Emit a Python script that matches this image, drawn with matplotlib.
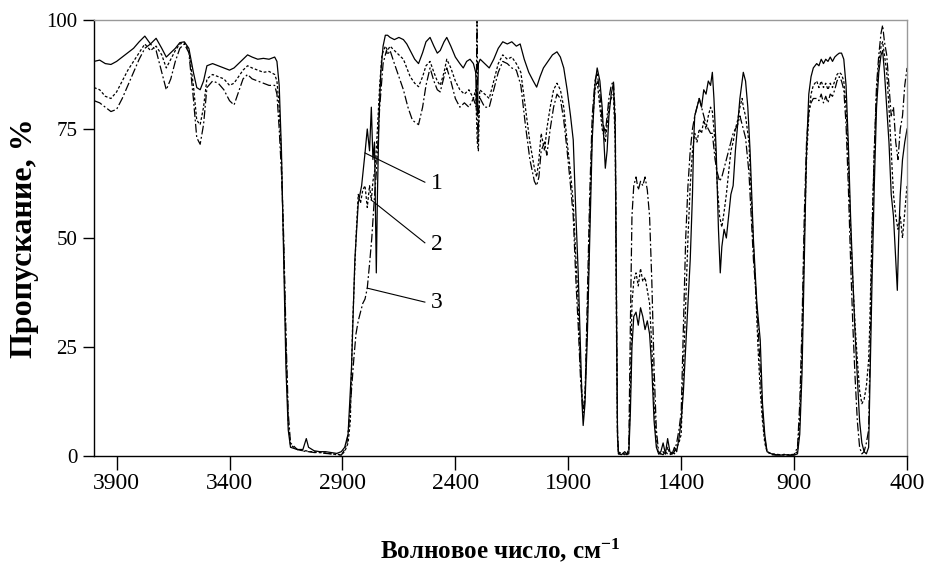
import matplotlib
matplotlib.use("Agg")
import matplotlib.pyplot as plt

plt.rcParams['font.family'] = ['Liberation Serif', 'DejaVu Serif']
plt.rcParams['mathtext.fontset'] = 'custom'
plt.rcParams['mathtext.rm'] = 'Liberation Serif:bold'
plt.rcParams['mathtext.default'] = 'rm'

# (wavenumber cm^-1, transmission %)
curve_1 = [
    (4000, 90.5), (3975, 90.8), (3950, 90.0), (3925, 89.8), (3900, 90.5), (3875, 91.5), (3850, 92.5),
    (3825, 93.5), (3800, 95.0), (3775, 96.3), (3750, 94.5), (3725, 95.8), (3700, 93.5), (3680, 91.5),
    (3660, 92.5), (3640, 93.5), (3620, 94.8), (3600, 95.0), (3580, 93.5), (3560, 88.0), (3545, 84.5),
    (3530, 84.0), (3515, 86.0), (3500, 89.5), (3475, 90.0), (3450, 89.5), (3425, 89.0), (3400, 88.5),
    (3380, 89.0), (3360, 90.0), (3340, 91.0), (3320, 92.0), (3300, 91.5), (3275, 91.0), (3250, 91.2),
    (3225, 91.0), (3200, 91.5), (3190, 90.5), (3180, 85.0), (3170, 70.0), (3160, 45.0), (3150, 20.0),
    (3140, 6.0), (3130, 2.0), (3100, 1.5), (3075, 1.5), (3060, 4.0), (3050, 2.0), (3025, 1.2),
    (3000, 1.0), (2975, 1.0), (2950, 0.8), (2925, 0.6), (2905, 1.0), (2890, 2.0), (2875, 5.0),
    (2860, 20.0), (2845, 45.0), (2830, 58.0), (2815, 62.0), (2800, 69.5), (2790, 75.0), (2780, 70.0),
    (2772, 80.0), (2765, 68.0), (2758, 72.0), (2750, 42.0), (2745, 60.0), (2738, 78.0), (2730, 88.0),
    (2720, 94.0), (2710, 96.5), (2700, 96.5), (2689, 96.0), (2670, 95.5), (2650, 96.0), (2630, 95.5),
    (2615, 94.5), (2600, 93.0), (2580, 91.0), (2563, 90.0), (2545, 92.5), (2530, 95.0), (2512, 96.0),
    (2495, 94.0), (2480, 92.4), (2467, 93.0), (2450, 95.0), (2438, 96.0), (2420, 94.0), (2400, 91.5),
    (2380, 90.0), (2365, 89.0), (2350, 90.5), (2335, 91.0), (2320, 90.0), (2310, 88.0), (2303, 78.0),
    (2298, 90.0), (2290, 91.0), (2270, 90.0), (2250, 89.0), (2230, 91.0), (2210, 93.5), (2190, 95.0),
    (2170, 94.5), (2150, 95.0), (2130, 94.0), (2113, 94.5), (2095, 91.0), (2075, 88.0), (2055, 86.0),
    (2040, 84.6), (2025, 87.0), (2010, 89.0), (1990, 90.5), (1970, 92.0), (1950, 92.7), (1935, 91.5),
    (1920, 89.0), (1905, 84.0), (1890, 78.0), (1878, 72.5), (1866, 55.0), (1856, 42.0), (1846, 25.0),
    (1838, 11.0), (1834, 7.0), (1826, 12.0), (1816, 26.6), (1805, 50.0), (1794, 72.5), (1782, 85.0),
    (1772, 89.0), (1760, 86.0), (1750, 80.0), (1740, 70.0), (1736, 66.0), (1728, 70.0), (1720, 78.0),
    (1710, 83.0), (1700, 85.5), (1692, 75.0), (1686, 30.0), (1682, 5.0), (1678, 0.5), (1665, 0.3),
    (1650, 1.0), (1640, 0.4), (1632, 0.5), (1625, 10.0), (1618, 25.0), (1610, 32.0), (1600, 33.0),
    (1590, 30.0), (1580, 34.0), (1570, 32.0), (1560, 29.0), (1550, 31.0), (1540, 28.0), (1530, 20.0),
    (1520, 8.0), (1510, 2.0), (1500, 0.5), (1490, 1.0), (1480, 3.0), (1470, 0.5), (1460, 4.0),
    (1450, 1.0), (1440, 0.5), (1430, 2.0), (1420, 1.0), (1410, 4.0), (1400, 8.0), (1390, 15.0),
    (1380, 25.0), (1370, 35.0), (1360, 45.0), (1350, 60.0), (1345, 72.0), (1340, 78.0), (1330, 80.0),
    (1320, 82.0), (1310, 80.0), (1300, 84.0), (1290, 83.0), (1280, 86.0), (1270, 85.0), (1262, 88.0),
    (1255, 82.0), (1245, 70.0), (1235, 52.0), (1227, 42.0), (1220, 48.0), (1210, 52.0), (1200, 50.0),
    (1190, 55.0), (1180, 60.0), (1170, 62.0), (1160, 70.0), (1150, 76.0), (1140, 82.0), (1130, 86.0),
    (1125, 88.0), (1115, 86.0), (1105, 80.0), (1095, 70.0), (1080, 49.5), (1065, 35.0), (1050, 26.6),
    (1040, 12.0), (1030, 5.0), (1020, 1.0), (1000, 0.5), (980, 0.3), (960, 0.2), (940, 0.3),
    (920, 0.2), (900, 0.2), (885, 0.5), (875, 5.0), (865, 19.0), (855, 45.0), (845, 70.0),
    (835, 83.0), (825, 87.0), (815, 89.0), (800, 90.0), (790, 89.5), (780, 91.0), (770, 90.0),
    (760, 91.0), (750, 90.5), (740, 91.5), (730, 90.5), (720, 91.5), (710, 92.0), (700, 92.4),
    (690, 92.4), (680, 91.0), (670, 85.0), (660, 71.8), (650, 55.0), (640, 41.0), (630, 28.0),
    (620, 18.0), (610, 8.0), (600, 3.0), (590, 1.0), (580, 0.5), (570, 2.0), (565, 15.0),
    (555, 40.0), (545, 62.0), (535, 80.0), (525, 88.0), (515, 92.0), (508, 93.0), (500, 88.0),
    (490, 80.0), (480, 72.0), (470, 60.0), (460, 55.0), (450, 45.0), (443, 38.0), (437, 50.0),
    (430, 60.0), (420, 68.0), (410, 72.0), (400, 75.0),
]

curve_2 = [
    (4000, 84.5), (3975, 84.0), (3950, 82.5), (3925, 82.0), (3900, 83.5), (3875, 86.0), (3850, 88.5),
    (3825, 90.5), (3800, 92.5), (3775, 94.5), (3750, 93.0), (3725, 94.0), (3700, 92.0), (3680, 89.0),
    (3660, 91.0), (3640, 93.0), (3620, 94.5), (3600, 94.8), (3580, 93.0), (3560, 85.0), (3545, 77.0),
    (3530, 76.0), (3515, 80.0), (3500, 86.5), (3475, 87.5), (3450, 87.0), (3425, 86.5), (3400, 85.0),
    (3380, 85.5), (3360, 87.0), (3340, 88.5), (3320, 89.5), (3300, 89.0), (3275, 88.5), (3250, 88.0),
    (3225, 88.2), (3200, 87.5), (3190, 86.0), (3180, 80.0), (3170, 68.0), (3160, 48.0), (3150, 25.0),
    (3140, 8.0), (3130, 2.5), (3100, 1.5), (3075, 1.2), (3060, 1.2), (3050, 1.0), (3025, 1.0),
    (3000, 0.8), (2975, 0.7), (2950, 0.5), (2925, 0.4), (2905, 0.3), (2890, 1.0), (2875, 3.0),
    (2865, 8.0), (2855, 30.0), (2840, 50.0), (2830, 60.0), (2820, 58.0), (2810, 61.0), (2800, 62.0),
    (2790, 57.0), (2780, 62.0), (2772, 58.7), (2765, 63.0), (2755, 66.0), (2745, 75.0), (2735, 85.0),
    (2725, 92.0), (2710, 94.0), (2700, 93.0), (2689, 94.0), (2670, 93.0), (2650, 92.0), (2630, 91.0),
    (2615, 89.0), (2600, 87.0), (2580, 85.5), (2563, 84.7), (2545, 87.0), (2530, 89.5), (2512, 90.5),
    (2495, 88.0), (2480, 86.0), (2467, 85.0), (2450, 88.0), (2438, 91.0), (2420, 89.0), (2400, 86.0),
    (2380, 84.0), (2360, 83.0), (2340, 84.0), (2320, 82.0), (2310, 84.0), (2303, 72.0), (2298, 70.0),
    (2292, 84.0), (2270, 83.0), (2250, 82.0), (2230, 86.0), (2210, 90.0), (2190, 92.0), (2170, 91.0),
    (2150, 91.5), (2130, 90.0), (2110, 88.0), (2090, 80.0), (2070, 72.0), (2050, 66.0), (2040, 64.0),
    (2030, 68.0), (2020, 74.0), (2005, 70.0), (1995, 75.0), (1980, 80.0), (1965, 84.0), (1950, 85.5),
    (1935, 84.0), (1920, 80.0), (1905, 72.0), (1890, 65.0), (1878, 58.0), (1866, 45.0), (1856, 35.0),
    (1846, 20.0), (1838, 13.0), (1834, 11.0), (1826, 14.0), (1816, 30.0), (1805, 55.0), (1794, 75.0),
    (1782, 84.0), (1772, 86.0), (1760, 80.0), (1750, 75.0), (1740, 73.0), (1736, 72.0), (1728, 76.0),
    (1720, 80.0), (1710, 82.0), (1700, 83.0), (1692, 72.0), (1686, 25.0), (1682, 4.0), (1678, 0.5),
    (1665, 0.8), (1650, 0.3), (1640, 0.6), (1632, 1.0), (1625, 15.0), (1618, 35.0), (1610, 40.0),
    (1600, 42.0), (1590, 39.0), (1580, 43.0), (1570, 40.0), (1560, 41.0), (1550, 38.0), (1540, 35.0),
    (1530, 25.0), (1520, 12.0), (1510, 3.0), (1500, 0.5), (1490, 0.5), (1480, 1.0), (1470, 0.3),
    (1460, 2.0), (1450, 0.5), (1440, 1.0), (1430, 0.5), (1420, 2.0), (1410, 3.0), (1400, 5.0),
    (1390, 20.0), (1380, 35.0), (1370, 50.0), (1360, 62.0), (1350, 70.0), (1340, 74.0), (1330, 72.0),
    (1320, 75.0), (1310, 74.0), (1300, 77.0), (1290, 75.0), (1280, 78.0), (1270, 80.0), (1262, 79.0),
    (1250, 72.0), (1240, 62.0), (1230, 55.0), (1220, 52.5), (1210, 56.0), (1200, 60.0), (1190, 65.0),
    (1180, 70.0), (1170, 72.0), (1160, 75.0), (1150, 77.0), (1140, 80.0), (1130, 82.0), (1125, 80.0),
    (1115, 78.0), (1100, 72.0), (1090, 60.0), (1080, 48.0), (1070, 38.0), (1060, 25.0), (1050, 15.0),
    (1040, 8.0), (1030, 3.0), (1020, 1.0), (1000, 0.5), (980, 0.4), (960, 0.3), (940, 0.2),
    (920, 0.3), (900, 0.4), (885, 1.0), (875, 8.0), (865, 25.0), (855, 50.0), (845, 68.0),
    (835, 78.0), (825, 83.0), (815, 85.0), (800, 86.0), (790, 84.5), (780, 86.0), (770, 84.5),
    (760, 85.5), (750, 84.0), (740, 85.5), (730, 84.5), (720, 86.0), (710, 87.5), (700, 88.0),
    (690, 87.5), (680, 86.0), (670, 80.0), (660, 68.0), (650, 52.0), (640, 40.0), (630, 30.0),
    (620, 22.0), (610, 15.0), (600, 12.0), (590, 13.0), (580, 16.0), (570, 22.0), (565, 30.0),
    (555, 52.0), (545, 70.0), (535, 83.0), (525, 90.0), (515, 94.0), (508, 95.0), (500, 92.0),
    (490, 88.0), (480, 80.0), (470, 70.0), (460, 60.0), (450, 55.0), (440, 52.0), (430, 55.0),
    (420, 50.0), (410, 56.0), (400, 62.0),
]

curve_3 = [
    (4000, 81.5), (3975, 81.0), (3950, 80.0), (3925, 79.0), (3900, 79.5), (3875, 82.0), (3850, 85.0),
    (3825, 88.0), (3800, 91.0), (3775, 93.5), (3750, 94.5), (3725, 93.0), (3700, 88.0), (3680, 84.0),
    (3660, 86.5), (3640, 90.5), (3620, 93.5), (3600, 94.5), (3580, 92.5), (3560, 82.0), (3545, 73.0),
    (3530, 71.5), (3515, 76.0), (3500, 84.5), (3475, 86.0), (3450, 85.5), (3425, 84.0), (3400, 81.5),
    (3380, 80.5), (3360, 83.5), (3340, 86.5), (3320, 87.5), (3300, 86.5), (3275, 86.0), (3250, 85.5),
    (3225, 85.0), (3200, 85.0), (3190, 83.0), (3180, 75.0), (3170, 65.0), (3160, 50.0), (3150, 28.0),
    (3140, 10.0), (3130, 3.0), (3100, 1.5), (3075, 1.2), (3060, 1.0), (3050, 1.0), (3025, 0.8),
    (3000, 0.8), (2975, 0.6), (2950, 0.5), (2925, 0.3), (2905, 0.2), (2890, 1.5), (2880, 3.0),
    (2870, 8.0), (2860, 15.0), (2850, 22.0), (2840, 28.0), (2830, 31.0), (2820, 33.0), (2810, 35.0),
    (2800, 36.0), (2790, 38.5), (2780, 44.0), (2770, 50.0), (2760, 58.0), (2750, 65.0), (2735, 80.0),
    (2720, 90.0), (2705, 93.0), (2700, 92.0), (2689, 93.0), (2670, 90.0), (2650, 87.0), (2630, 84.0),
    (2610, 80.0), (2590, 77.0), (2563, 76.0), (2545, 80.0), (2530, 85.0), (2512, 89.0), (2495, 86.0),
    (2480, 84.0), (2467, 83.5), (2450, 87.0), (2438, 89.0), (2420, 86.0), (2400, 82.0), (2380, 80.0),
    (2360, 81.0), (2340, 80.0), (2320, 82.0), (2308, 80.0), (2304, 100.0), (2300, 72.0), (2295, 82.0),
    (2290, 82.0), (2270, 80.0), (2250, 80.0), (2230, 84.0), (2210, 88.0), (2190, 90.5), (2170, 90.0),
    (2150, 89.0), (2130, 88.5), (2110, 85.0), (2090, 76.0), (2070, 68.0), (2050, 63.0), (2040, 62.0),
    (2030, 64.0), (2020, 70.0), (2005, 72.0), (1995, 69.0), (1980, 75.0), (1965, 80.0), (1950, 83.0),
    (1935, 82.0), (1920, 77.0), (1905, 70.0), (1890, 62.0), (1878, 55.0), (1866, 40.0), (1856, 30.0),
    (1846, 18.0), (1838, 12.0), (1834, 10.0), (1826, 13.0), (1816, 35.0), (1805, 60.0), (1794, 78.0),
    (1782, 86.0), (1772, 88.0), (1760, 83.0), (1750, 77.0), (1740, 75.0), (1736, 74.0), (1728, 78.0),
    (1720, 82.0), (1710, 85.0), (1700, 86.0), (1692, 78.0), (1686, 35.0), (1682, 6.0), (1678, 1.0),
    (1665, 0.5), (1650, 0.5), (1640, 0.3), (1632, 2.0), (1625, 30.0), (1618, 55.0), (1610, 62.0),
    (1600, 64.0), (1590, 61.0), (1580, 63.0), (1570, 62.0), (1560, 64.0), (1550, 61.0), (1540, 55.0),
    (1530, 40.0), (1520, 20.0), (1510, 6.0), (1500, 1.0), (1490, 0.5), (1480, 0.3), (1470, 1.0),
    (1460, 0.5), (1450, 0.3), (1440, 0.5), (1430, 1.0), (1420, 3.0), (1410, 6.0), (1400, 10.0),
    (1390, 30.0), (1380, 50.0), (1370, 62.0), (1360, 70.0), (1350, 75.0), (1340, 78.0), (1330, 80.0),
    (1320, 82.0), (1310, 80.0), (1300, 78.0), (1290, 76.0), (1280, 75.0), (1270, 74.0), (1262, 74.0),
    (1250, 68.0), (1240, 65.0), (1230, 63.0), (1220, 64.0), (1210, 66.0), (1200, 68.0), (1190, 70.0),
    (1180, 72.0), (1170, 74.0), (1160, 75.0), (1150, 76.0), (1140, 78.0), (1130, 76.0), (1125, 75.0),
    (1115, 73.0), (1100, 65.0), (1090, 55.0), (1080, 45.0), (1070, 38.0), (1060, 30.0), (1050, 20.0),
    (1040, 10.0), (1030, 4.0), (1020, 1.0), (1000, 0.3), (980, 0.2), (960, 0.3), (940, 0.4),
    (920, 0.2), (900, 0.3), (885, 2.0), (875, 12.0), (865, 30.0), (855, 55.0), (845, 72.0),
    (835, 79.0), (825, 81.0), (815, 82.0), (800, 82.0), (790, 81.5), (780, 83.0), (770, 81.0),
    (760, 82.5), (750, 81.0), (740, 83.0), (730, 82.5), (720, 84.0), (710, 86.0), (700, 87.0),
    (690, 86.0), (680, 84.0), (670, 76.0), (660, 62.0), (650, 45.0), (640, 30.0), (630, 18.0),
    (620, 8.0), (610, 2.0), (600, 0.5), (590, 1.0), (580, 3.0), (570, 6.0), (565, 20.0),
    (555, 50.0), (545, 70.0), (535, 85.0), (525, 92.0), (515, 97.0), (508, 98.8), (500, 95.0),
    (490, 92.0), (480, 85.0), (470, 78.0), (460, 80.0), (450, 72.0), (440, 68.0), (430, 75.0),
    (420, 78.0), (410, 85.0), (400, 89.0),
]

x_ticks = [3900, 3400, 2900, 2400, 1900, 1400, 900, 400]
y_ticks = [0, 25, 50, 75, 100]
curve_labels = ["1", "2", "3"]

fig = plt.figure(figsize=(9.28, 5.63), dpi=100)
ax = fig.add_axes([0.1013, 0.19, 0.8761, 0.7745])

styles = ["-", (0, (2.2, 1.6)), (0, (7, 2, 1.5, 2))]
for data, ls in zip([curve_1, curve_2, curve_3], styles):
    wn, tr = zip(*data)
    ax.plot(wn, tr, color="black", lw=0.9, linestyle=ls)

ax.set_xlim(4000, 400)
ax.set_ylim(0, 100)
ax.set_xticks(x_ticks)
ax.set_yticks(y_ticks)
ax.tick_params(axis="x", direction="out", length=10, width=1, pad=2, labelsize=17)
ax.tick_params(axis="y", direction="out", length=8, width=1, pad=4, labelsize=15)
for sp in ["top", "right"]:
    ax.spines[sp].set_color("#999999")
    ax.spines[sp].set_linewidth(1.0)
for sp in ["left", "bottom"]:
    ax.spines[sp].set_color("black")
    ax.spines[sp].set_linewidth(1.0)

ax.set_xlabel("Волновое число, см$^{-1}$", fontsize=18, fontweight="bold", labelpad=31)
ax.set_ylabel("Пропускание, %", fontsize=23, fontweight="bold", labelpad=5)

# curve number labels with leader lines
leaders = [((2800, 69.5), (2535, 62.8), (2508, 62.6)),
           ((2772, 58.7), (2535, 48.9), (2508, 48.4)),
           ((2790, 38.5), (2535, 35.3), (2508, 35.1))]
for lab, (p0, p1, pt) in zip(curve_labels, leaders):
    ax.plot([p0[0], p1[0]], [p0[1], p1[1]], color="black", lw=0.8)
    ax.text(pt[0], pt[1], lab, fontsize=17, ha="left", va="center")

fig.savefig("out.png", dpi=100)
